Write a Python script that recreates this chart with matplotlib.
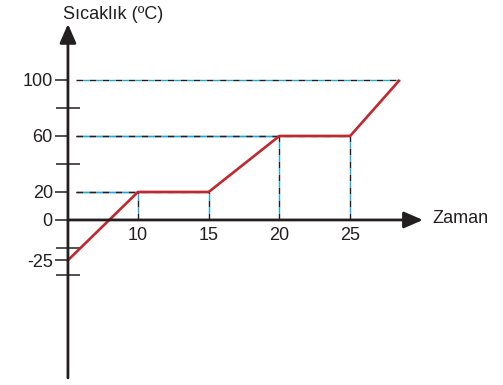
import numpy as np
import matplotlib
matplotlib.use("Agg")
import matplotlib.pyplot as plt

plt.rcParams['font.family'] = ['Liberation Sans', 'DejaVu Sans']

# heating curve data (schematic)
zaman = [5.05, 10, 15, 20, 25, 28.5]
sicaklik = [-25, 20, 20, 60, 60, 100]
ytick_vals = [100, 60, 20, 0, -25]
ytick_labels = ['100', '60', '20', '0', '-25']
xtick_vals = [10, 15, 20, 25]
xtick_labels = ['10', '15', '20', '25']

INK = '#231f20'
RED = '#c1272d'
CYAN = '#1aa9e3'
FS = 13

# the drawing stretches the negative part a bit
NEG = 1.15
def fwd(y):
    y = np.asarray(y, dtype=float)
    return np.where(y < 0, y * NEG, y)
def inv(y):
    y = np.asarray(y, dtype=float)
    return np.where(y < 0, y / NEG, y)

fig = plt.figure(figsize=(5.03, 3.85), dpi=100)
ax = fig.add_axes([0, 0, 1, 1])
ax.set_yscale('function', functions=(fwd, inv))
ax.set_xlim(0.247, 35.8)
ax.set_ylim(-102.5, 157.1)
ax.patch.set_visible(False)

x0 = zaman[0]

# two-tone dashed helper lines
def guide(xs, ys):
    ax.plot(xs, ys, color=INK, lw=1.0, ls=(0, (4.7, 4.7)), zorder=2)
    ax.plot(xs, ys, color=CYAN, lw=1.0, ls=(4.7, (4.7, 4.7)), zorder=2)

for t, v in zip(zaman[1:], sicaklik[1:]):
    guide([x0 + 0.6, t], [v, v])
for t, v in zip(zaman[1:5], sicaklik[1:5]):
    guide([t, t], [0, v])

ax.plot(zaman, sicaklik, color=RED, lw=1.9, zorder=4, solid_capstyle='butt')

# axes with arrow heads
arrow = dict(arrowstyle='-|>,head_length=1.15,head_width=0.5', lw=2,
             color=INK, shrinkA=0, shrinkB=0, mutation_scale=10)
ax.annotate('', xy=(x0, 140), xytext=(x0, -98.1), arrowprops=arrow, zorder=5)
ax.annotate('', xy=(30.14, 0), xytext=(x0, 0), arrowprops=arrow, zorder=5)

for s in ax.spines.values():
    s.set_visible(False)
ax.spines['left'].set_position(('data', x0))
ax.spines['bottom'].set_position(('data', 0))
ax.spines['left'].set_visible(True)
ax.spines['left'].set_color('none')
ax.spines['bottom'].set_visible(True)
ax.spines['bottom'].set_color('none')

ax.set_yticks(ytick_vals, ytick_labels)
ax.set_yticks([80, 40, -17.4, -34.2], minor=True)
ax.yaxis.set_minor_formatter(plt.NullFormatter())
ax.tick_params(axis='y', which='major', direction='out', length=9.4, width=1.1,
               color=INK, labelsize=FS, labelcolor=INK, pad=1.5)
ax.tick_params(axis='y', which='minor', direction='inout', length=17, width=1.1,
               color=INK)
ax.set_xticks(xtick_vals, xtick_labels)
ax.tick_params(axis='x', which='both', length=0, labelsize=FS, labelcolor=INK, pad=5)
ax.xaxis.set_minor_locator(plt.NullLocator())

ax.text(8.23, 147, 'Sıcaklık (ºC)', ha='center', va='center', fontsize=FS, color=INK)
ax.text(30.78, 0.7, 'Zaman', ha='left', va='center', fontsize=FS, color=INK)

fig.savefig('out.png', dpi=100)
